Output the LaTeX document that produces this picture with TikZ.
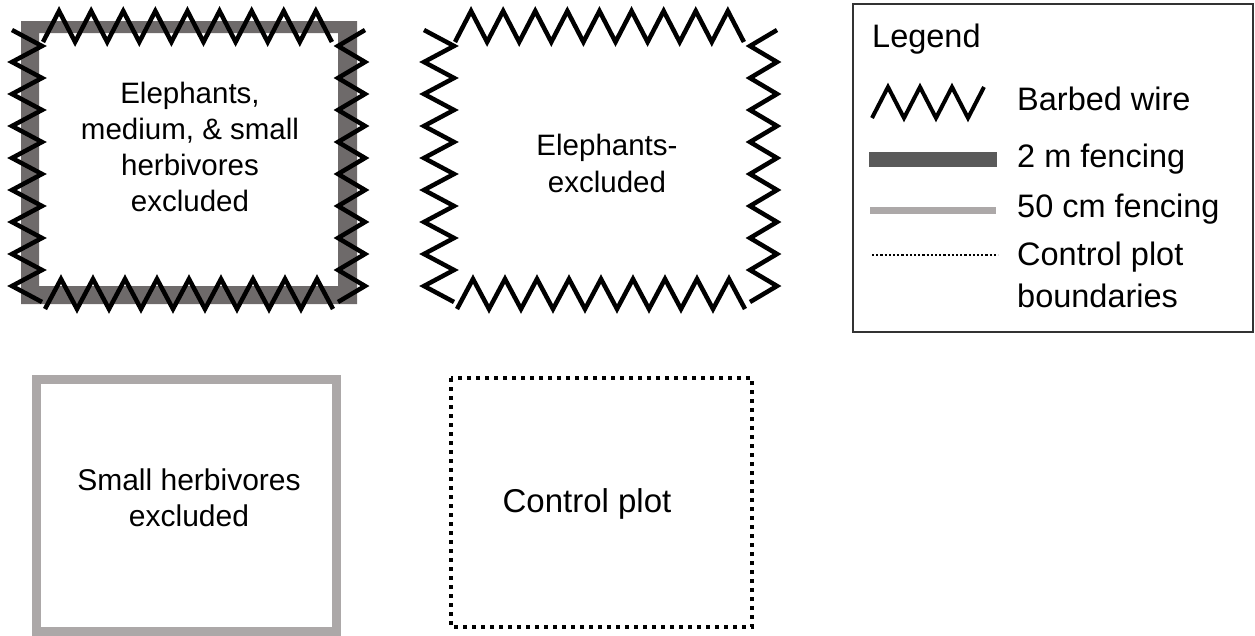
\documentclass[tikz,border=0pt]{standalone}
\usepackage{fontspec}
\setmainfont{Liberation Sans}
\definecolor{fencedark}{RGB}{110,106,106}
\definecolor{fencedarkleg}{RGB}{90,90,90}
\definecolor{fencelight}{RGB}{172,168,168}
\begin{document}
\begin{tikzpicture}[x=1pt,y=-1pt,
  wire/.style={line width=4.5pt,black},
  boxlbl/.style={inner sep=0pt,align=center,font=\fontsize{29.5}{36}\selectfont},
  leglbl/.style={inner sep=0pt,anchor=base west,font=\fontsize{32.5}{42}\selectfont}]
\useasboundingbox (0,0) rectangle (1255,635);
% ---- plot 1: 2 m fencing + barbed wire
\fill[fencedark,even odd rule] (21,21) rectangle (357,304) (39,33) rectangle (338,286);
\newcommand{\barbedframe}{%
  \draw[wire] (12,30) \foreach \i in {1,...,17} { -- ({12+30*mod(\i,2)},{30+16*\i}) };
  \draw[wire] (365,30) \foreach \i in {1,...,17} { -- ({365-27*mod(\i,2)},{30+16*\i}) };
  \draw[wire] (43,42) \foreach \i in {1,...,18} { -- ({43+16.05*\i},{42-31*mod(\i,2)}) };
  \draw[wire] (45,309) \foreach \i in {1,...,18} { -- ({45+16*\i},{309-30*mod(\i,2)}) };
}
\barbedframe
\node[boxlbl] (t1) at (190,146.5) {Elephants,\\medium, \& small\\herbivores\\excluded};
% ---- plot 2: barbed wire only
\begin{scope}[shift={(412,0)}]
\barbedframe
\end{scope}
\node[boxlbl,font=\fontsize{29.5}{37}\selectfont] (t2) at (607,163) {Elephants-\\excluded};
% ---- plot 3: 50 cm fencing
\draw[fencelight,line width=9pt] (36.5,379.5) rectangle (336,631);
\node[boxlbl,font=\fontsize{30}{36}\selectfont] (t3) at (189,497.5) {Small herbivores\\excluded};
% ---- plot 4: control plot
\draw[line width=3.2pt,dash pattern=on 3.6pt off 5.4pt] (451,378) rectangle (752,627);
\node[inner sep=0pt,anchor=base,font=\fontsize{33}{40}\selectfont] (t4) at (587,512) {Control plot};
% ---- legend
\draw[line width=1.3pt,black!80] (853,4) rectangle (1253,332);
\node[leglbl] (lg) at (872,47) {Legend};
\draw[line width=4pt] (872,118) -- (888,87) -- (904,118) -- (920,87) -- (936,118) -- (952,87) -- (968,118) -- (984,87);
\node[leglbl] (l1) at (1017,110) {Barbed wire};
\fill[fencedarkleg] (869,152) rectangle (997,167);
\node[leglbl] (l2) at (1017,167) {2 m fencing};
\fill[fencelight] (870,207) rectangle (996,214);
\node[leglbl] (l3) at (1017,217) {50 cm fencing};
\draw[line width=2.2pt,dash pattern=on 2.2pt off 2pt] (872,255) -- (998,255);
\node[inner sep=0pt,anchor=west,align=left,font=\fontsize{32.5}{42}\selectfont] (l4) at (1017,274.5) {Control plot\\boundaries};
\end{tikzpicture}
\end{document}
